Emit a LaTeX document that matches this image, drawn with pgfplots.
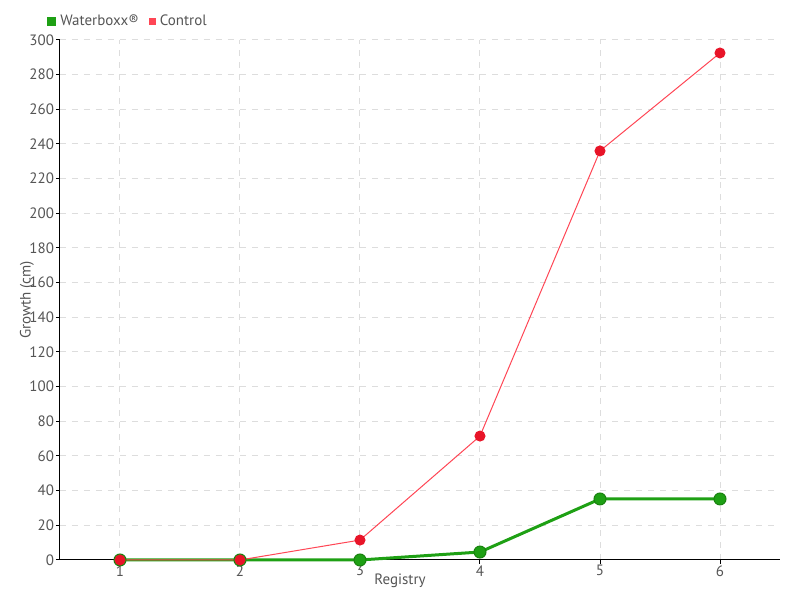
\documentclass[border=0pt]{standalone}
\usepackage{pgfplots}
\pgfplotsset{compat=1.18}
\usepackage{fontspec}
\setmainfont{PT Sans}
\definecolor{wgreen}{RGB}{30,160,20}
\definecolor{wgreendark}{RGB}{25,130,15}
\definecolor{cred}{RGB}{232,20,40}
\definecolor{cline}{RGB}{255,70,85}
\definecolor{txt}{RGB}{85,85,85}
\definecolor{gridc}{RGB}{221,221,221}
\begin{document}
\begin{tikzpicture}
\begin{axis}[
  scale only axis, width=360pt, height=260pt,
  xmin=0.5, xmax=6.5, ymin=0, ymax=300,
  xtick={1,2,3,4,5,6}, ytick={0,20,...,300},
  axis x line=bottom, axis y line=left,
  axis line style={black, line width=0.5pt, -},
  tick align=outside, major tick length=2pt,
  tick style={black, line width=0.5pt},
  xmajorgrids, ymajorgrids,
  grid style={gridc, dash pattern=on 3pt off 3pt, line width=0.5pt},
  /pgf/number format/assume math mode=true,
  ticklabel style={font=\fontsize{7.5}{8}\selectfont, text=txt},
  yticklabel style={inner sep=0.8pt},
  xticklabel style={inner sep=0.5pt},
  xlabel={Registry}, ylabel={Growth (cm)},
  label style={font=\fontsize{7.5}{8}\selectfont, text=txt},
  xlabel style={at={(rel axis cs:0.4722,-0.0404)}, anchor=center, inner sep=0pt},
  ylabel style={at={(rel axis cs:-0.0458,0.5)}, anchor=center, inner sep=0pt},
  clip=false,
  legend columns=2,
  legend style={draw=none, fill=none, at={(rel axis cs:-0.018,1.0346)}, anchor=west,
    font=\fontsize{7.5}{8}\selectfont, text=txt, inner sep=0pt,
    /tikz/every even column/.append style={column sep=3pt}},
  legend image code/.code={\fill[#1] (0pt,-1.5pt) rectangle (3pt,1.5pt);},
]
\addplot[wgreen, line width=1.5pt, mark=*, mark size=3pt,
  mark options={fill=wgreen, draw=wgreendark, line width=0.5pt}]
  coordinates {(1,0) (2,0) (3,0) (4,4.6) (5,35.2) (6,35.2)};
\addlegendentry{Waterboxx®}
\addplot[cline, line width=0.5pt, mark=*, mark size=2.5pt,
  mark options={fill=cred, draw=cred}]
  coordinates {(1,0) (2,0) (3,11.5) (4,71.5) (5,236) (6,292.5)};
\addlegendentry{Control}
\path (rel axis cs:-0.08333,-0.07692) rectangle (rel axis cs:1.02778,1.07692);
\end{axis}
\end{tikzpicture}
\end{document}
